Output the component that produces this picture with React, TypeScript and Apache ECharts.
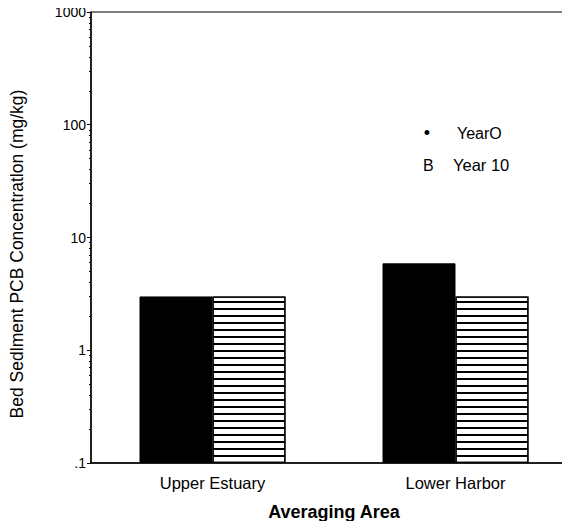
import React, { useEffect, useRef } from "react";
import * as echarts from "echarts";

const categories = ["Upper Estuary", "Lower Harbor"];
const year0Values = [3.0, 5.9];
const year10Values = [3.0, 3.0];
const yTickLabels: Record<string, string> = { "0.1": ".1", "1": "1", "10": "10", "100": "100", "1000": "1000" };
const legendSymbols = ["•", "B"];
const legendNames = ["YearO", "Year 10"];

const FONT = "'Liberation Sans', Arial, Helvetica, sans-serif";

export default function App() {
  const ref = useRef<HTMLDivElement>(null);
  useEffect(() => {
    if (!ref.current) return;
    const chart = echarts.init(ref.current, null, { renderer: "svg" });
    chart.setOption({
      animation: false,
      backgroundColor: "#fff",
      grid: {
        left: 91,
        width: 486,
        top: 12,
        bottom: 66,
        outerBoundsMode: "none",
        show: true,
        borderColor: "#000",
        borderWidth: 1,
      },
      xAxis: {
        type: "category",
        data: categories,
        axisLine: { lineStyle: { color: "#000", width: 1.5 } },
        axisTick: { show: false },
        axisLabel: { color: "#000", fontFamily: FONT, fontSize: 16.5, margin: 11 },
        name: "Averaging Area",
        nameLocation: "middle",
        nameGap: 40,
        nameTextStyle: { color: "#000", fontFamily: FONT, fontSize: 18, fontWeight: "bold" },
      },
      yAxis: {
        type: "log",
        logBase: 10,
        min: 0.1,
        max: 1000,
        startValue: 0.1,
        splitLine: { show: false },
        axisLine: { show: true, lineStyle: { color: "#000", width: 1.5 } },
        axisTick: { show: true, length: 4, lineStyle: { color: "#000" } },
        minorTick: { show: true, splitNumber: 9, length: 2, lineStyle: { color: "#000" } },
        axisLabel: {
          color: "#000",
          fontFamily: FONT,
          fontSize: 14,
          margin: 5,
          formatter: (v: number) => yTickLabels[String(v)] ?? String(v),
        },
      },
      graphic: [
        {
          type: "text",
          x: 17,
          y: 254,
          rotation: Math.PI / 2,
          style: {
            text: "Bed Sedlment PCB Concentratlon (mg/kg)",
            font: `17.5px ${FONT}`,
            fill: "#000",
            textAlign: "center",
            textVerticalAlign: "middle",
          },
        },
        {
          type: "text",
          x: 427,
          y: 133,
          style: { text: legendSymbols[0], font: `18px ${FONT}`, fill: "#000", textAlign: "center", textVerticalAlign: "middle" },
        },
        {
          type: "text",
          x: 457,
          y: 133,
          style: { text: legendNames[0], font: `16px ${FONT}`, fill: "#000", textAlign: "left", textVerticalAlign: "middle" },
        },
        {
          type: "text",
          x: 423,
          y: 165,
          style: { text: legendSymbols[1], font: `16px ${FONT}`, fill: "#000", textAlign: "left", textVerticalAlign: "middle" },
        },
        {
          type: "text",
          x: 453,
          y: 165,
          style: { text: legendNames[1], font: `16.5px ${FONT}`, fill: "#000", textAlign: "left", textVerticalAlign: "middle" },
        },
      ],
      series: [
        {
          name: legendNames[0],
          type: "bar",
          data: year0Values,
          barWidth: 73,
          barGap: "0%",
          itemStyle: {
            color: "#000",
            borderColor: "#000",
            borderWidth: 1,
          },
        },
        {
          name: legendNames[1],
          type: "bar",
          data: year10Values,
          barWidth: 73,
          barGap: "0%",
          itemStyle: {
            color: "#fff",
            borderColor: "#000",
            borderWidth: 1.2,
            decal: {
              symbol: "rect",
              symbolSize: 1,
              color: "#000",
              dashArrayX: [1, 0],
              dashArrayY: [2, 4.7],
              rotation: 0,
            },
          },
        },
      ],
    });
    return () => chart.dispose();
  }, []);
  return <div ref={ref} style={{ width: 570, height: 529, margin: -8 }} />;
}
